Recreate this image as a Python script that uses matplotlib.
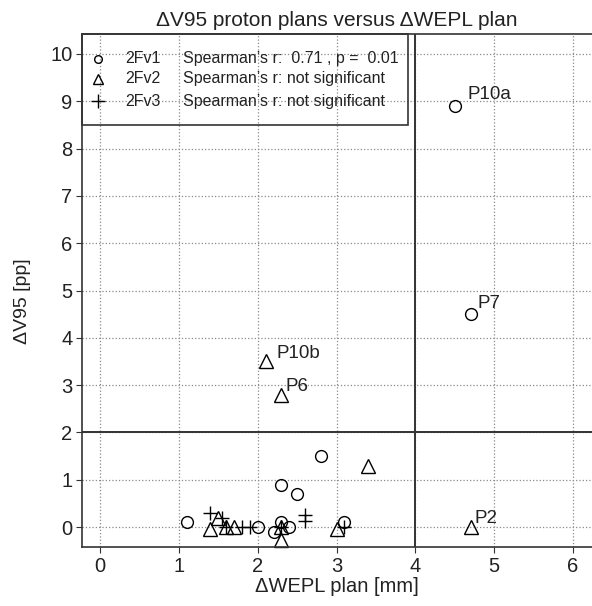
import matplotlib
matplotlib.use("Agg")
import matplotlib.pyplot as plt
from matplotlib.patches import Rectangle

plt.rcParams['font.family'] = ['Liberation Sans', 'DejaVu Sans']

# 2Fv1 (circles)
wepl_v1 = [4.5, 4.7, 2.8, 2.3, 2.5, 1.1, 2.0, 2.2, 2.3, 2.4, 3.1]
dv95_v1 = [8.9, 4.5, 1.5, 0.9, 0.7, 0.1, 0.0, -0.1, 0.1, 0.0, 0.1]
# 2Fv2 (triangles)
wepl_v2 = [2.1, 2.3, 3.4, 4.7, 1.4, 1.5, 1.6, 1.7, 2.3, 2.3, 3.0]
dv95_v2 = [3.5, 2.8, 1.3, 0.0, -0.05, 0.2, 0.0, 0.0, 0.0, -0.28, -0.05]
# 2Fv3 (crosses)
wepl_v3 = [1.4, 1.55, 1.6, 1.8, 1.9, 2.3, 2.6, 2.6, 3.1]
dv95_v3 = [0.3, 0.2, 0.0, 0.0, 0.0, 0.0, 0.25, 0.12, 0.0]

# patient labels: (name, x, y, offset in points)
labels = [("P10a", 4.5, 8.9, (9, 8)),
          ("P7", 4.7, 4.5, (5, 8)),
          ("P10b", 2.1, 3.5, (8, 6)),
          ("P6", 2.3, 2.8, (3, 6)),
          ("P2", 4.7, 0.0, (3, 6))]

series_names = ["2Fv1", "2Fv2", "2Fv3"]
series_stats = ["Spearman\u2019s r:  0.71 , p =  0.01",
                "Spearman\u2019s r: not significant",
                "Spearman\u2019s r: not significant"]

dark = "#333333"
txt = "#222222"
fig = plt.figure(figsize=(5.92, 6.06), dpi=100)
ax = fig.add_axes([82 / 592, 1 - 547 / 606, 1 - 82 / 592, (547 - 34) / 606])

ax.plot(wepl_v1, dv95_v1, 'o', ms=8.5, mfc='none', mec='black', mew=1.0, clip_on=False)
ax.plot(wepl_v2, dv95_v2, '^', ms=10, mfc='none', mec='black', mew=1.0, clip_on=False)
ax.plot(wepl_v3, dv95_v3, '+', ms=10, mec='black', mew=1.0, clip_on=False)

for name, x, y, off in labels:
    ax.annotate(name, (x, y), xytext=off, textcoords='offset points',
                ha='left', va='center', fontsize=13.5, color=txt)

ax.axhline(2, color=dark, lw=1.4)
ax.axvline(4, color=dark, lw=1.4)

ax.set_xlim(-0.23, 6.24)
ax.set_ylim(-0.42, 10.42)
ax.set_xticks(range(0, 7))
ax.set_yticks(range(0, 11))
ax.grid(True, linestyle=':', color='#8a8a8a', lw=0.9)
ax.set_axisbelow(True)
ax.tick_params(direction='out', length=4, width=0.8, colors=dark, labelsize=14.5,
               labelcolor=txt, pad=3)
for side in ['top', 'left', 'bottom']:
    ax.spines[side].set_color(dark)
    ax.spines[side].set_linewidth(1.2)
ax.spines['right'].set_visible(False)

ax.set_xlabel("\u0394WEPL plan [mm]", fontsize=14.5, color=txt, labelpad=1)
ax.set_ylabel("\u0394V95 [pp]", fontsize=14, color=txt)
ax.yaxis.set_label_coords(-0.1, 0.48)
ax.set_title("\u0394V95 proton plans versus \u0394WEPL plan", fontsize=15,
             color=txt, pad=6)

# legend box drawn by hand (transparent, grid shows through)
ax.add_patch(Rectangle((-0.23, 8.5), 4.13, 1.92, fill=False, ec=dark, lw=1.2,
                       clip_on=False))
markers = ['o', '^', '+']
sizes = [5.5, 7.5, 10]
row_y = [9.9, 9.47, 9.0]
for m, s, ry, nm, st in zip(markers, sizes, row_y, series_names, series_stats):
    if m == '+':
        ax.plot([-0.03], [ry], m, ms=s, mec='black', mew=1.0)
    else:
        ax.plot([-0.03], [ry], m, ms=s, mfc='none', mec='black', mew=1.0)
    ax.text(0.32, ry, nm, fontsize=11.5, va='center', ha='left', color=txt)
    ax.text(1.05, ry, st, fontsize=11.5, va='center', ha='left', color=txt)

fig.savefig("out.png", dpi=100)
